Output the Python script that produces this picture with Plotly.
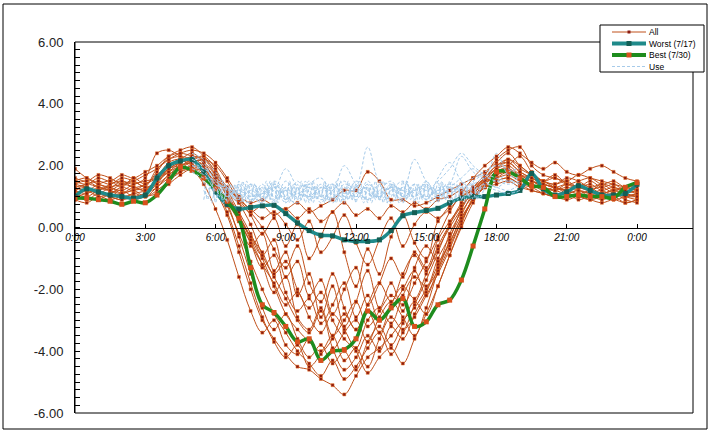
import plotly.graph_objects as go

# ---------------- data ----------------
hours = [i * 0.5 for i in range(49)]          # 0:00 .. 24:00, every 30 min
tick_hours = [0, 3, 6, 9, 12, 15, 18, 21, 24]
tick_labels = ["0:00", "3:00", "6:00", "9:00", "12:00", "15:00", "18:00", "21:00", "0:00"]
y_ticks = [6, 4, 2, 0, -2, -4, -6]
y_labels = ["6.00", "4.00", "2.00", "0.00", "-2.00", "-4.00", "-6.00"]

worst_717 = [1.0, 1.25, 1.15, 1.05, 1.0, 0.95, 1.05, 1.6, 2.0, 2.15, 2.2, 1.8,
             1.15, 0.75, 0.6, 0.65, 0.7, 0.72, 0.45, 0.15,
             -0.1, -0.25, -0.27, -0.4, -0.45, -0.45, -0.4, -0.1,
             0.38, 0.48, 0.55, 0.62, 0.8, 0.95, 1.0, 1.0,
             1.05, 1.1, 1.2, 1.75, 1.25, 1.05, 1.15, 1.35,
             1.2, 1.05, 1.05, 1.1, 1.4]

best_730 = [0.95, 0.95, 0.9, 0.85, 0.75, 0.85, 0.8, 1.05, 1.5, 1.95, 1.85, 1.6,
            1.25, 0.85, 0.3, -1.3, -2.5, -2.75, -3.2, -3.7,
            -3.6, -4.3, -4.0, -3.95, -3.6, -2.7, -3.0, -2.6,
            -2.3, -3.2, -3.05, -2.5, -2.35, -1.7, -0.6, 0.6,
            1.8, 1.8, 1.6, 1.35, 1.3, 1.0, 1.0, 1.05,
            1.0, 1.0, 0.95, 1.3, 1.45]

all_days = [
    [1.2, 1.3, 1.1, 1.0, 1.1, 1.2, 1.3, 1.9, 2.2, 2.3, 2.2, 2.0,
     1.2, 0.4, -0.8, -2.0, -3.0, -3.6, -4.1, -4.5,
     -4.6, -4.9, -5.1, -5.4, -4.8, -4.2, -3.9, -3.5,
     -3.0, -2.6, -2.0, -1.4, -0.6, 0.2, 0.9, 1.5,
     1.9, 2.1, 1.8, 1.6, 1.4, 1.3, 1.2, 1.3,
     1.2, 1.1, 1.0, 1.1, 1.2],
    [1.4, 1.5, 1.3, 1.2, 1.4, 1.3, 1.2, 1.5, 2.0, 2.2, 2.4, 2.1,
     1.5, 0.8, -0.3, -1.5, -2.6, -3.3, -2.8, -3.6,
     -4.2, -3.8, -4.4, -4.0, -4.6, -3.7, -3.2, -3.8,
     -3.1, -2.4, -2.8, -1.9, -0.9, 0.1, 1.0, 1.6,
     2.0, 2.2, 2.0, 1.7, 1.5, 1.4, 1.5, 1.3,
     1.4, 1.2, 1.3, 1.1, 1.0],
    [1.0, 1.1, 1.2, 1.0, 0.9, 1.0, 1.1, 1.4, 1.9, 2.1, 2.2, 2.0,
     1.6, 1.2, 1.0, 0.8, 0.9, 0.7, 0.6, 0.8,
     0.5, 0.7, 0.9, 1.2, 1.2, 1.8, 1.5, 0.9,
     0.9, 0.7, 0.8, 1.0, 1.2, 1.4, 1.6, 1.8,
     2.1, 2.4, 2.0, 1.7, 1.5, 1.3, 1.2, 1.4,
     1.3, 1.1, 1.2, 1.0, 0.9],
    [1.5, 1.6, 1.4, 1.3, 1.2, 1.4, 1.5, 1.6, 1.8, 2.0, 2.2, 2.3,
     1.9, 1.1, 0.3, -0.5, -1.2, -1.8, -2.5, -2.1,
     -2.9, -3.4, -2.8, -3.3, -3.9, -3.0, -2.6, -3.1,
     -2.2, -1.6, -1.9, -1.0, -0.3, 0.4, 1.1, 1.4,
     1.7, 1.9, 1.6, 1.5, 1.3, 1.2, 1.4, 1.3,
     1.2, 1.4, 1.3, 1.2, 1.1],
    [0.9, 1.0, 0.9, 1.1, 1.2, 1.0, 1.1, 1.3, 1.7, 1.9, 2.1, 1.8,
     1.4, 0.9, 0.2, -0.6, -0.2, -1.4, -0.8, -2.2,
     -1.5, -2.9, -1.9, -3.2, -2.4, -1.4, -2.6, -1.8,
     -2.7, -1.3, -0.6, -1.1, -0.2, 0.5, 1.0, 1.3,
     1.5, 1.6, 1.4, 1.3, 1.1, 1.0, 1.1, 0.9,
     1.0, 0.9, 1.0, 0.8, 0.9],
    [1.3, 1.2, 1.4, 1.5, 1.3, 1.6, 1.4, 1.8, 2.3, 2.5, 2.6, 2.3,
     1.8, 1.2, 0.5, -0.2, -1.0, -1.9, -2.8, -3.3,
     -3.7, -4.0, -3.5, -4.3, -3.9, -4.5, -3.6, -2.9,
     -3.3, -2.5, -1.7, -0.8, 0.1, 0.8, 1.3, 1.7,
     2.2, 2.5, 2.6, 2.0, 1.7, 1.6, 1.5, 1.7,
     1.6, 1.5, 1.4, 1.3, 1.2],
    [1.1, 1.0, 1.2, 1.3, 1.1, 1.2, 1.0, 1.2, 1.5, 1.8, 2.0, 1.9,
     1.7, 1.3, 0.9, 0.6, 0.3, 0.5, 0.1, -0.4,
     0.2, -0.8, -0.3, 0.4, -0.5, -1.2, -0.4, 0.3,
     -0.6, 0.1, 0.5, 0.3, 0.7, 1.0, 1.2, 1.5,
     1.7, 1.8, 1.6, 1.4, 1.3, 1.2, 1.1, 1.2,
     1.1, 1.0, 1.1, 1.0, 1.1],
    [1.9, 1.6, 1.4, 1.3, 1.5, 1.4, 1.6, 2.4, 2.5, 2.3, 2.1, 2.2,
     2.0, 1.5, 0.8, 0.1, -0.9, -1.6, -2.3, -3.0,
     -3.4, -2.7, -3.9, -4.6, -4.2, -3.5, -4.0, -3.2,
     -3.6, -2.8, -2.1, -1.2, -0.5, 0.3, 0.9, 1.4,
     1.8, 2.0, 2.3, 1.8, 1.5, 1.4, 1.6, 1.5,
     1.3, 1.4, 1.2, 1.3, 1.4],
    [1.2, 1.4, 1.3, 1.2, 1.0, 1.1, 1.2, 1.6, 2.1, 2.2, 1.9, 1.4,
     0.6, -0.4, -1.6, -2.7, -3.4, -3.0, -3.8, -4.1,
     -3.6, -4.3, -4.0, -3.4, -3.0, -3.7, -2.9, -2.4,
     -2.9, -3.5, -2.6, -1.4, -0.4, 0.6, 1.2, 1.6,
     1.9, 2.0, 1.7, 1.5, 1.4, 1.3, 1.2, 1.1,
     1.2, 1.3, 1.1, 1.0, 1.0],
    [1.0, 1.2, 1.1, 1.3, 1.4, 1.5, 1.3, 1.5, 1.8, 2.1, 2.3, 2.2,
     1.7, 1.0, 0.4, -0.3, -0.9, -0.4, -1.6, -1.1,
     -2.2, -1.7, -2.8, -2.0, -1.3, -2.5, -1.8, -1.0,
     -1.6, -0.8, -1.3, -0.4, 0.2, 0.7, 1.1, 1.5,
     1.6, 1.7, 1.5, 1.4, 1.2, 1.3, 1.1, 1.2,
     1.0, 1.1, 0.9, 1.0, 1.1],
    [1.6, 1.5, 1.7, 1.6, 1.4, 1.5, 1.7, 1.9, 2.2, 2.4, 2.5, 2.4,
     2.1, 1.6, 1.0, 0.5, 0.0, -0.7, -1.3, -0.6,
     -1.8, -2.4, -1.5, -2.6, -3.3, -2.7, -3.4, -2.5,
     -1.9, -2.3, -1.5, -0.7, 0.0, 0.6, 1.2, 1.6,
     1.9, 2.2, 1.9, 1.7, 1.5, 1.6, 1.4, 1.5,
     1.6, 1.4, 1.5, 1.3, 1.4],
    [0.9, 0.8, 1.0, 0.9, 1.0, 0.9, 1.0, 1.1, 1.4, 1.7, 1.9, 1.8,
     1.5, 1.1, 0.8, 0.5, 0.7, 0.4, 0.6, 0.3,
     0.6, 0.2, 0.5, 0.8, 0.4, 0.6, 0.3, 0.7,
     0.5, 0.8, 0.6, 0.9, 1.0, 1.2, 1.1, 1.3,
     1.4, 1.5, 1.3, 1.2, 1.1, 1.0, 0.9, 1.0,
     0.9, 0.8, 0.9, 0.8, 0.9],
    [1.4, 1.3, 1.2, 1.4, 1.5, 1.3, 1.4, 1.7, 2.0, 2.2, 2.0, 1.8,
     1.3, 0.5, -0.6, -1.8, -2.9, -3.7, -4.2, -3.8,
     -4.5, -4.1, -3.6, -2.8, -3.3, -2.5, -1.8, -2.4,
     -1.5, -0.9, -1.4, -0.6, 0.1, 0.7, 1.2, 1.5,
     1.8, 1.9, 1.7, 1.6, 1.4, 1.3, 1.2, 1.3,
     1.2, 1.1, 1.2, 1.1, 1.0],
    [1.1, 1.2, 1.0, 1.1, 1.3, 1.2, 1.4, 1.6, 1.9, 2.1, 2.2, 2.0,
     1.6, 1.0, 0.3, -0.3, -0.8, -1.5, -1.1, -2.0,
     -2.6, -2.1, -3.0, -3.6, -4.0, -4.7, -4.2, -3.9,
     -4.4, -3.6, -2.8, -1.9, -0.9, 0.0, 0.8, 1.4,
     1.7, 1.8, 1.6, 1.5, 1.3, 1.2, 1.3, 1.2,
     1.1, 1.2, 1.0, 1.1, 1.2],
    [1.3, 1.4, 1.5, 1.4, 1.6, 1.5, 1.3, 1.4, 1.7, 2.0, 2.1, 2.2,
     1.8, 1.3, 0.9, 0.4, -0.2, 0.3, -0.6, 0.1,
     -1.0, -0.3, 0.5, -0.8, -1.9, -0.7, -1.5, -0.3,
     0.4, -0.5, -1.0, 0.2, 0.6, 1.0, 1.3, 1.6,
     2.0, 2.1, 1.8, 1.6, 1.5, 1.7, 1.4, 1.3,
     1.5, 1.3, 1.4, 1.2, 1.3],
    [1.2, 1.1, 1.3, 1.2, 1.1, 1.3, 1.2, 1.5, 1.9, 2.0, 2.1, 1.9,
     1.4, 0.7, -0.2, -1.1, -2.0, -2.8, -3.4, -4.0,
     -4.4, -4.8, -4.3, -4.9, -4.5, -3.9, -3.4, -4.1,
     -3.4, -2.9, -2.2, -1.5, -0.7, 0.2, 0.9, 1.3,
     1.6, 1.8, 1.7, 1.5, 1.4, 1.3, 1.4, 1.3,
     1.2, 1.1, 1.2, 1.3, 1.2],
    [1.5, 1.4, 1.6, 1.5, 1.7, 1.6, 1.8, 2.0, 2.3, 2.4, 2.3, 2.1,
     1.7, 1.1, 0.4, -0.4, -1.2, -2.1, -1.6, -2.9,
     -3.3, -2.6, -3.5, -3.0, -2.4, -3.2, -2.7, -2.2,
     -2.5, -1.8, -1.1, -0.3, 0.5, 1.1, 1.6, 2.0,
     2.3, 2.6, 2.4, 2.1, 1.9, 2.1, 1.8, 1.7,
     1.9, 2.0, 1.8, 1.6, 1.5],
    [1.0, 0.9, 1.1, 1.0, 0.9, 1.1, 1.0, 1.3, 1.6, 1.8, 1.9, 1.7,
     1.3, 0.8, 0.2, -0.5, -1.3, -0.9, -2.1, -2.7,
     -2.3, -3.1, -2.5, -1.8, -2.9, -2.2, -3.0, -2.6,
     -2.0, -1.4, -2.2, -1.3, -0.5, 0.3, 0.9, 1.3,
     1.5, 1.6, 1.4, 1.2, 1.1, 1.0, 1.1, 1.0,
     0.9, 1.0, 1.1, 0.9, 0.8],
]

# Household use, 30-min readings, 5:00 .. 19:00 (night values coincide with "All")
use_hours = hours[10:39]
use_days = [
    [2.0, 1.8, 1.4, 1.0, 1.3, 0.9, 1.4, 0.8, 1.3, 0.9, 1.5, 0.8, 1.4, 1.0, 1.3,
     0.9, 1.4, 0.8, 1.3, 1.0, 1.5, 0.9, 1.3, 1.2, 1.5, 1.7, 1.6, 1.5, 1.6],
    [2.2, 2.0, 1.5, 1.2, 0.8, 1.4, 0.9, 1.3, 0.8, 1.5, 0.9, 1.4, 0.8, 1.3, 0.9,
     1.5, 1.0, 1.3, 0.8, 1.4, 0.9, 1.3, 1.1, 1.4, 1.6, 1.8, 2.0, 1.9, 1.7],
    [2.1, 1.9, 1.6, 1.1, 1.2, 1.0, 1.1, 1.2, 1.9, 1.3, 1.0, 1.2, 1.4, 1.1, 1.3,
     2.6, 1.5, 1.4, 1.2, 1.0, 1.3, 1.1, 1.2, 1.3, 1.4, 1.6, 1.5, 1.4, 1.5],
    [2.3, 2.1, 1.4, 1.3, 1.0, 0.8, 1.3, 1.0, 1.2, 1.1, 1.0, 1.3, 1.2, 2.0, 1.4,
     1.1, 1.0, 1.4, 1.2, 2.2, 1.5, 1.2, 1.4, 2.3, 1.8, 1.6, 2.4, 1.7, 1.6],
    [1.9, 1.7, 1.2, 0.9, 1.4, 1.1, 0.8, 1.4, 1.0, 0.8, 1.3, 1.0, 0.9, 1.4, 1.2,
     0.9, 1.2, 1.5, 1.0, 1.2, 0.9, 1.6, 2.1, 1.5, 1.2, 1.4, 1.3, 1.2, 1.4],
    [2.0, 1.9, 1.7, 1.3, 1.1, 1.4, 1.2, 0.9, 1.5, 1.1, 1.3, 0.9, 1.2, 1.5, 1.0,
     1.4, 1.1, 1.3, 1.0, 1.2, 1.4, 1.0, 1.3, 1.6, 1.9, 1.5, 1.3, 1.5, 1.4],
    [2.4, 2.2, 1.8, 1.3, 0.9, 1.2, 1.0, 1.5, 1.2, 1.0, 1.4, 1.6, 1.1, 0.9, 1.5,
     1.2, 1.0, 1.3, 1.1, 1.4, 1.2, 1.5, 1.9, 2.4, 2.0, 1.7, 1.5, 1.8, 1.9],
    [1.8, 1.6, 1.5, 1.0, 1.2, 0.9, 1.1, 1.3, 0.9, 1.2, 1.4, 1.0, 1.3, 0.9, 1.1,
     1.3, 0.9, 1.2, 1.5, 1.1, 1.0, 1.2, 1.4, 1.3, 1.1, 1.3, 1.2, 1.1, 1.2],
]

# Household use, 10-min readings, 5:30 .. 17:30
use_fine_start = 5.5
use_fine_days = [
    [1.5, 0.9, 1.4, 0.8, 1.5, 0.9, 1.3, 0.8, 1.4, 0.9, 1.5, 0.8, 1.4, 0.9, 1.3,
     0.8, 1.5, 0.9, 1.4, 0.8, 1.3, 0.9, 1.5, 0.8, 1.4, 0.9, 1.4, 0.8, 1.5, 0.9,
     1.3, 0.8, 1.4, 0.9, 1.5, 0.8, 1.3, 0.9, 1.4, 0.8, 1.5, 0.9, 1.4, 0.8, 1.3,
     0.9, 1.5, 0.8, 1.4, 0.9, 1.3, 0.8, 1.5, 0.9, 1.4, 0.8, 1.4, 0.9, 1.3, 0.8,
     1.5, 0.9, 1.4, 0.8, 1.3, 0.9, 1.5, 0.8, 1.4, 0.9, 1.3, 1.0, 1.4],
    [0.9, 1.4, 0.8, 1.3, 1.0, 1.5, 0.8, 1.4, 0.9, 1.3, 0.8, 1.5, 1.0, 1.4, 0.8,
     1.3, 0.9, 1.5, 0.8, 1.4, 1.0, 1.3, 0.8, 1.4, 0.9, 1.5, 0.8, 1.3, 0.9, 1.4,
     1.0, 1.5, 0.8, 1.4, 0.9, 1.3, 0.8, 1.5, 0.9, 1.4, 1.0, 1.3, 0.8, 1.4, 0.9,
     1.5, 0.8, 1.3, 1.0, 1.4, 0.8, 1.5, 0.9, 1.3, 0.8, 1.4, 0.9, 1.5, 1.0, 1.3,
     0.8, 1.4, 0.9, 1.5, 0.8, 1.3, 0.9, 1.4, 1.0, 1.5, 0.9, 1.3, 1.2],
    [1.2, 1.0, 1.5, 0.9, 1.2, 0.8, 1.4, 1.1, 0.9, 1.5, 1.0, 1.2, 0.8, 1.4, 1.1,
     0.9, 1.3, 1.0, 1.5, 0.9, 1.2, 0.8, 1.4, 1.0, 1.3, 0.9, 1.5, 1.1, 0.8, 1.3,
     1.0, 1.4, 0.9, 1.2, 0.8, 1.5, 1.0, 1.3, 0.9, 1.4, 1.1, 0.8, 1.3, 1.0, 1.5,
     0.9, 1.2, 0.8, 1.4, 1.0, 1.3, 0.9, 1.5, 1.1, 0.9, 1.3, 1.0, 1.4, 0.8, 1.2,
     1.0, 1.5, 0.9, 1.3, 1.1, 1.4, 0.9, 1.2, 1.0, 1.4, 1.1, 1.3, 1.5],
]

# ---------------- styles ----------------
C_ALL = "#C0501A"
C_ALL_MK = "#8A1A10"
C_WORST = "#1F8A8A"
C_WORST_MK = "#145F55"
C_BEST = "#1E8C1E"
C_BEST_MK = "#D8501C"
C_USE = "#A6CBEA"

W, H = 713, 433
PL, PR, PT, PB = 75, 693, 42, 413


def px_x(px):
    return (px - PL) / (PR - PL)


def px_y(py):
    return (PB - py) / (PB - PT)


fig = go.Figure()

for k, day in enumerate(all_days):
    fig.add_trace(go.Scatter(
        x=hours, y=day, mode="lines+markers", name="All",
        legendgroup="all", showlegend=False,
        line=dict(color=C_ALL, width=1, shape="spline", smoothing=1.0),
        marker=dict(color=C_ALL_MK, size=3, symbol="square",
                    line=dict(width=0.5, color="#F07828")),
    ))

fig.add_trace(go.Scatter(
    x=hours, y=worst_717, mode="lines+markers", name="Worst (7/17)", showlegend=False,
    line=dict(color=C_WORST, width=3.5, shape="spline", smoothing=1.0),
    marker=dict(color=C_WORST_MK, size=5, symbol="square"),
))
fig.add_trace(go.Scatter(
    x=hours, y=best_730, mode="lines+markers", name="Best (7/30)", showlegend=False,
    line=dict(color=C_BEST, width=3.5, shape="spline", smoothing=1.0),
    marker=dict(color=C_BEST_MK, size=5, symbol="square"),
))
for day in use_days:
    fig.add_trace(go.Scatter(
        x=use_hours, y=day, mode="lines", name="Use", showlegend=False,
        line=dict(color=C_USE, width=1, dash="3px,2px", shape="spline", smoothing=1.0),
    ))
for day in use_fine_days:
    fig.add_trace(go.Scatter(
        x=[use_fine_start + i / 6 for i in range(len(day))], y=day,
        mode="lines", name="Use", showlegend=False,
        line=dict(color=C_USE, width=1, dash="3px,2px", shape="spline", smoothing=1.0),
    ))

# ---------------- axes ----------------
x_max = (PR - PL) / ((637 - PL) / 24.0)
fig.update_xaxes(
    range=[0, x_max], domain=[0, 1], anchor="free", position=0.5,
    showline=True, linecolor="black", linewidth=1, zeroline=False, showgrid=False,
    ticks="inside", ticklen=4, tickcolor="black", tickwidth=1,
    tickvals=tick_hours, ticktext=tick_labels,
    tickfont=dict(family="Liberation Sans", size=10, color="black", style="italic"),
)
fig.update_yaxes(
    range=[-6, 6], domain=[0, 1],
    showline=True, linecolor="black", linewidth=1, zeroline=False, showgrid=False,
    ticks="inside", ticklen=5, tickcolor="black", tickwidth=1,
    tickvals=y_ticks, ticktext=y_labels,
    ticklabelstandoff=8,
    minor=dict(dtick=0.25, ticks="inside", ticklen=5, tickcolor="black", showgrid=False),
    tickfont=dict(family="Liberation Sans", size=13, color="#222222"),
)

shapes = []
# plot-area frame
shapes.append(dict(type="rect", xref="paper", yref="paper", x0=0, x1=1, y0=0, y1=1,
                   line=dict(color="black", width=1), fillcolor="rgba(0,0,0,0)", layer="above"))
# outer chart frame
shapes.append(dict(type="rect", xref="paper", yref="paper",
                   x0=px_x(3), x1=px_x(707), y0=px_y(429), y1=px_y(4),
                   line=dict(color="black", width=1), fillcolor="rgba(0,0,0,0)"))
# legend box
shapes.append(dict(type="rect", xref="paper", yref="paper",
                   x0=px_x(600), x1=px_x(704), y0=px_y(72), y1=px_y(25),
                   line=dict(color="black", width=1), fillcolor="white", layer="above"))

legend_items = [
    ("All", C_ALL, 1, "solid", C_ALL_MK, 3, 32),
    ("Worst (7/17)", C_WORST, 4, "solid", C_WORST_MK, 5, 43.5),
    ("Best (7/30)", C_BEST, 4, "solid", C_BEST_MK, 5, 55),
    ("Use", C_USE, 1, "3px,2px", None, 0, 66.5),
]
annotations = []
for name, col, wid, dash, mcol, msz, py in legend_items:
    shapes.append(dict(type="line", xref="paper", yref="paper",
                       x0=px_x(612), x1=px_x(646), y0=px_y(py), y1=px_y(py),
                       line=dict(color=col, width=wid, dash=dash), layer="above"))
    if mcol:
        h = msz / 2
        shapes.append(dict(type="rect", xref="paper", yref="paper",
                           x0=px_x(629 - h), x1=px_x(629 + h),
                           y0=px_y(py + h), y1=px_y(py - h),
                           line=dict(width=0), fillcolor=mcol, layer="above"))
    annotations.append(dict(xref="paper", yref="paper", x=px_x(647), y=px_y(py),
                            text=name, showarrow=False, xanchor="left", yanchor="middle",
                            font=dict(family="Liberation Sans", size=8.5, color="black")))

fig.update_layout(
    width=W, height=H,
    margin=dict(l=PL, r=W - PR, t=PT, b=H - PB),
    paper_bgcolor="white", plot_bgcolor="white",
    showlegend=False,
    shapes=shapes, annotations=annotations,
)

fig.write_html("out.html", config={"displayModeBar": False},
               post_script="document.body.style.margin='0';document.body.style.overflow='hidden';")
